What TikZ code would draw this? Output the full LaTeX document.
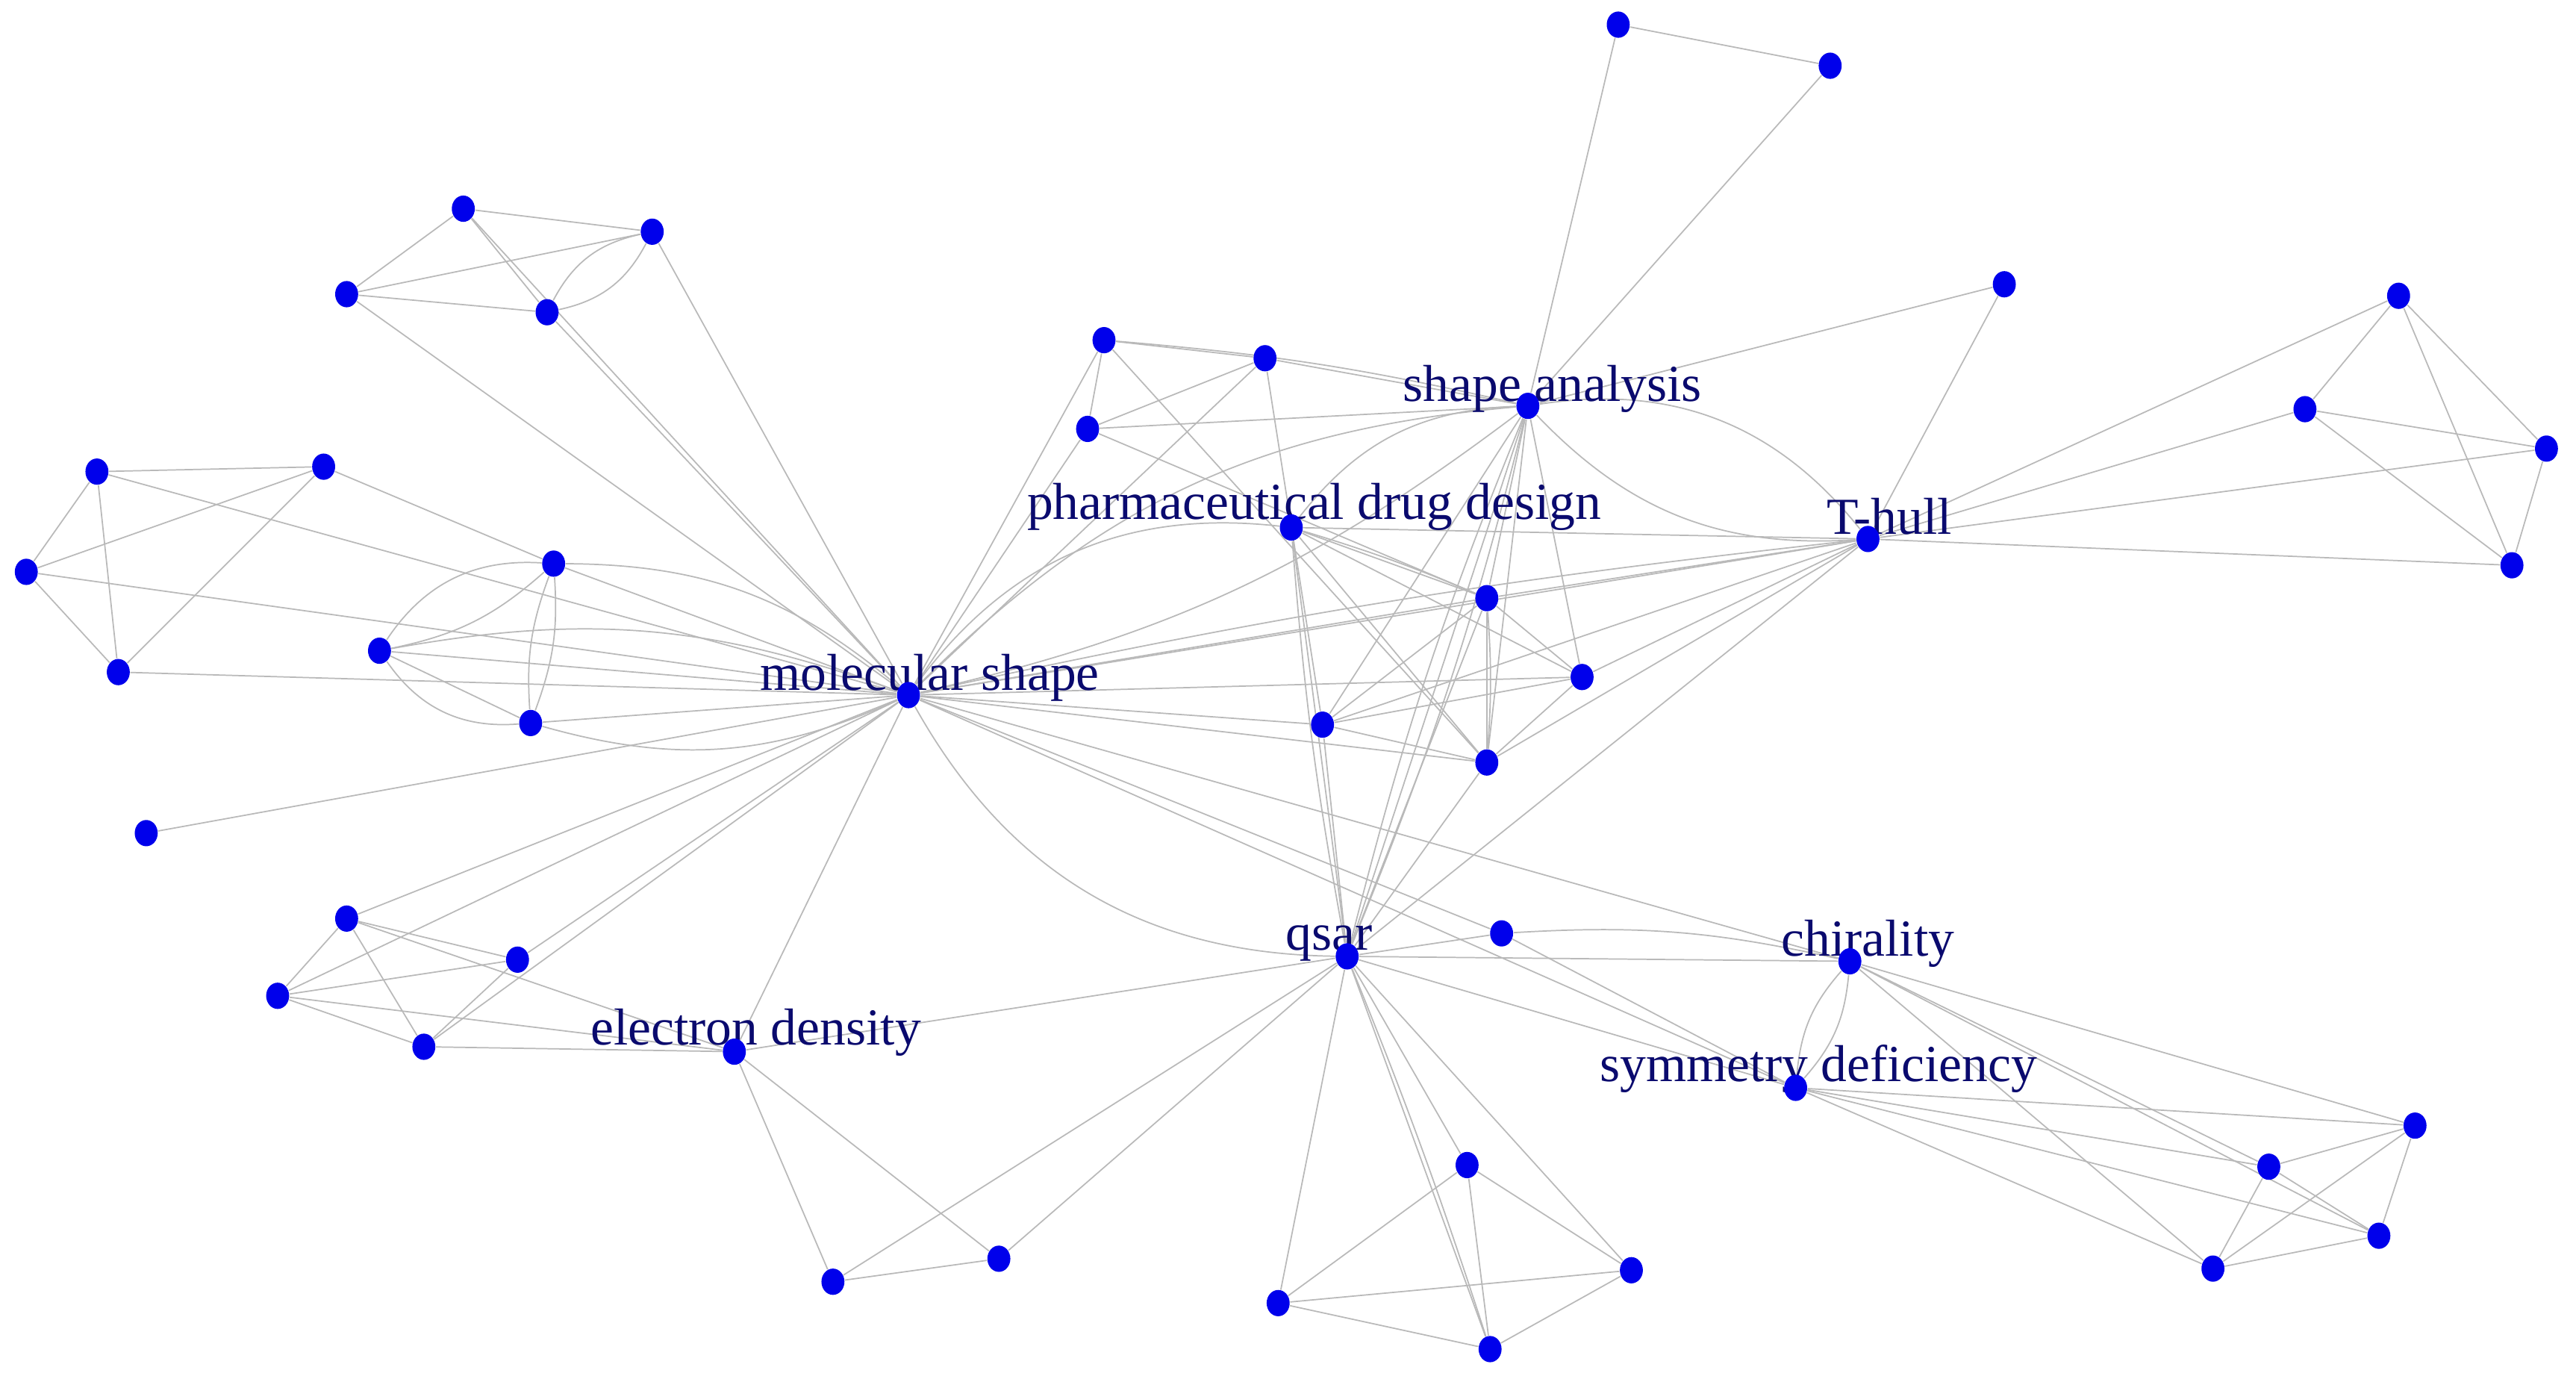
\documentclass[tikz,border=0pt]{standalone}
\usepackage{fontspec}
\setmainfont{Liberation Serif}
\usetikzlibrary{shapes.geometric}
\pgfdeclarelayer{background}
\pgfsetlayers{background,main}
\definecolor{nodeblue}{RGB}{0,0,235}
\definecolor{labelblue}{RGB}{10,10,110}
\definecolor{edgegray}{RGB}{185,185,185}
\tikzset{
  dot/.style={ellipse, fill=nodeblue, draw=none, inner sep=0pt, minimum width=0.28cm, minimum height=0.32cm},
  lab/.style={text=labelblue, font=\fontsize{18}{20}\selectfont, inner sep=0pt, anchor=base},
  edg/.style={draw=edgegray, line width=0.45pt}
}
\begin{document}
\begin{tikzpicture}[x=0.02cm,y=0.02cm]
\useasboundingbox (0,0) rectangle (1568,-839);
% labels
\node[lab] (lms) at (566,-420) {molecular shape};
\node[lab] (lsa) at (945,-244) {shape analysis};
\node[lab] (lpd) at (800,-316) {pharmaceutical drug design};
\node[lab] (lth) at (1150,-325) {T-hull};
\node[lab] (lqs) at (809,-578) {qsar};
\node[lab] (led) at (460,-636) {electron density};
\node[lab] (lch) at (1137,-582) {chirality};
\node[lab] (lsd) at (1107,-658) {symmetry deficiency};
% nodes
\node[dot] (a1) at (282,-127) {};
\node[dot] (a2) at (397,-141) {};
\node[dot] (a3) at (211,-179) {};
\node[dot] (a4) at (333,-190) {};
\node[dot] (b1) at (59,-287) {};
\node[dot] (b2) at (197,-284) {};
\node[dot] (b3) at (16,-348) {};
\node[dot] (b4) at (72,-409) {};
\node[dot] (c1) at (337,-343) {};
\node[dot] (c2) at (231,-396) {};
\node[dot] (c3) at (323,-440) {};
\node[dot] (d) at (89,-507) {};
\node[dot] (ms) at (553,-423) {};
\node[dot] (e1) at (211,-559) {};
\node[dot] (e2) at (315,-584) {};
\node[dot] (e3) at (169,-606) {};
\node[dot] (e4) at (258,-637) {};
\node[dot] (ed) at (447,-640) {};
\node[dot] (f1) at (507,-780) {};
\node[dot] (f2) at (608,-766) {};
\node[dot] (qs) at (820,-582) {};
\node[dot] (g1) at (893,-709) {};
\node[dot] (g2) at (993,-773) {};
\node[dot] (g3) at (778,-793) {};
\node[dot] (g4) at (907,-821) {};
\node[dot] (h1) at (914,-568) {};
\node[dot] (ch) at (1126,-585) {};
\node[dot] (sd) at (1093,-662) {};
\node[dot] (i1) at (1470,-685) {};
\node[dot] (i2) at (1381,-710) {};
\node[dot] (i3) at (1448,-752) {};
\node[dot] (i4) at (1347,-772) {};
\node[dot] (j1) at (672,-207) {};
\node[dot] (j2) at (770,-218) {};
\node[dot] (j3) at (662,-261) {};
\node[dot] (pd) at (786,-321) {};
\node[dot] (sa) at (930,-247) {};
\node[dot] (k1) at (985,-15) {};
\node[dot] (k2) at (1114,-40) {};
\node[dot] (ll) at (1220,-173) {};
\node[dot] (th) at (1137,-328) {};
\node[dot] (m1) at (905,-364) {};
\node[dot] (m2) at (963,-412) {};
\node[dot] (m3) at (805,-441) {};
\node[dot] (m4) at (905,-464) {};
\node[dot] (n1) at (1460,-180) {};
\node[dot] (n2) at (1403,-249) {};
\node[dot] (n3) at (1550,-273) {};
\node[dot] (n4) at (1529,-344) {};
\begin{pgfonlayer}{background}
% top-left cluster
\draw[edg] (a1) -- (a2);
\draw[edg] (a1) -- (a3);
\draw[edg] (a1) -- (a4);
\draw[edg] (a3) -- (a2);
\draw[edg] (a3) -- (a4);
\draw[edg] (a2) to[bend left=25] (a4);
\draw[edg] (a2) to[bend right=25] (a4);
\draw[edg] (a3) -- (ms);
\draw[edg] (a1) -- (ms);
\draw[edg] (a4) -- (ms);
\draw[edg] (a2) -- (ms);
% left cluster
\draw[edg] (b1) -- (b2);
\draw[edg] (b1) -- (b3);
\draw[edg] (b1) -- (b4);
\draw[edg] (b3) -- (b2);
\draw[edg] (b2) -- (b4);
\draw[edg] (b3) -- (b4);
\draw[edg] (b1) -- (ms);
\draw[edg] (b3) -- (ms);
\draw[edg] (b4) -- (ms);
\draw[edg] (b2) -- (c1);
% inner-left
\draw[edg] (c1) to[bend left=12] (c3);
\draw[edg] (c1) to[bend right=12] (c3);
\draw[edg] (c1) to[bend right=30] (c2);
\draw[edg] (c1) to[bend left=15] (c2);
\draw[edg] (c2) to[bend right=30] (c3);
\draw[edg] (c2) -- (c3);
\draw[edg] (c1) -- (ms);
\draw[edg] (c1) to[bend left=20] (ms);
\draw[edg] (c2) -- (ms);
\draw[edg] (c2) to[bend left=15] (ms);
\draw[edg] (c3) -- (ms);
\draw[edg] (c3) to[bend right=20] (ms);
\draw[edg] (d) -- (ms);
% bottom-left
\draw[edg] (e1) -- (e2);
\draw[edg] (e1) -- (e3);
\draw[edg] (e1) -- (e4);
\draw[edg] (e1) -- (ed);
\draw[edg] (e2) -- (e3);
\draw[edg] (e2) -- (e4);
\draw[edg] (e3) -- (e4);
\draw[edg] (e3) -- (ed);
\draw[edg] (e4) -- (ed);
\draw[edg] (e1) -- (ms);
\draw[edg] (e2) -- (ms);
\draw[edg] (e3) -- (ms);
\draw[edg] (e4) -- (ms);
\draw[edg] (ed) -- (ms);
\draw[edg] (ed) -- (qs);
\draw[edg] (ed) -- (f1);
\draw[edg] (ed) -- (f2);
\draw[edg] (f1) -- (f2);
\draw[edg] (f1) -- (qs);
\draw[edg] (f2) -- (qs);
% qsar
\draw[edg] (ms) to[bend right=30] (qs);
\draw[edg] (qs) -- (g1);
\draw[edg] (qs) -- (g2);
\draw[edg] (qs) -- (g3);
\draw[edg] (qs) -- (g4);
\draw[edg] (qs) to[bend left=2] (g4);
\draw[edg] (g1) -- (g2);
\draw[edg] (g1) -- (g3);
\draw[edg] (g1) -- (g4);
\draw[edg] (g2) -- (g3);
\draw[edg] (g2) -- (g4);
\draw[edg] (g3) -- (g4);
\draw[edg] (qs) -- (h1);
\draw[edg] (qs) -- (ch);
\draw[edg] (qs) -- (sd);
\draw[edg] (qs) -- (pd);
\draw[edg] (qs) to[bend left=3] (pd);
\draw[edg] (qs) -- (m3);
\draw[edg] (qs) -- (sa);
\draw[edg] (qs) to[bend left=4] (sa);
\draw[edg] (qs) to[bend right=4] (sa);
\draw[edg] (qs) -- (th);
\draw[edg] (qs) -- (m1);
\draw[edg] (qs) -- (m4);
% chirality / symmetry deficiency
\draw[edg] (h1) to[bend left=8] (ch);
\draw[edg] (h1) -- (sd);
\draw[edg] (ms) -- (h1);
\draw[edg] (ch) to[bend left=18] (sd);
\draw[edg] (ch) to[bend right=18] (sd);
\draw[edg] (ch) -- (i1);
\draw[edg] (ch) -- (i2);
\draw[edg] (ch) -- (i3);
\draw[edg] (ch) -- (i4);
\draw[edg] (ms) -- (ch);
\draw[edg] (ms) -- (sd);
\draw[edg] (sd) -- (i1);
\draw[edg] (sd) -- (i2);
\draw[edg] (sd) -- (i3);
\draw[edg] (sd) -- (i4);
\draw[edg] (i1) -- (i2);
\draw[edg] (i1) -- (i3);
\draw[edg] (i1) -- (i4);
\draw[edg] (i2) -- (i3);
\draw[edg] (i2) -- (i4);
\draw[edg] (i4) -- (i3);
% upper center
\draw[edg] (j1) -- (j2);
\draw[edg] (j1) to[bend left=4] (sa);
\draw[edg] (j1) -- (j3);
\draw[edg] (j2) -- (j3);
\draw[edg] (j1) -- (ms);
\draw[edg] (j2) -- (ms);
\draw[edg] (j3) -- (ms);
\draw[edg] (j1) -- (m4);
\draw[edg] (j3) -- (m1);
\draw[edg] (j2) -- (m3);
\draw[edg] (j2) -- (sa);
\draw[edg] (j3) -- (sa);
% pharmaceutical drug design
\draw[edg] (ms) to[bend left=30] (pd);
\draw[edg] (pd) -- (th);
\draw[edg] (pd) -- (m1);
\draw[edg] (pd) to[bend left=3] (m1);
\draw[edg] (pd) -- (m2);
\draw[edg] (pd) -- (m4);
\draw[edg] (pd) to[bend left=25] (sa);
% shape analysis
\draw[edg] (sa) to[bend right=20] (ms);
\draw[edg] (sa) to[bend left=12] (ms);
\draw[edg] (sa) to[bend left=30] (th);
\draw[edg] (sa) to[bend right=25] (th);
\draw[edg] (sa) -- (k1);
\draw[edg] (sa) -- (k2);
\draw[edg] (k1) -- (k2);
\draw[edg] (sa) -- (ll);
\draw[edg] (ll) -- (th);
\draw[edg] (sa) -- (m1);
\draw[edg] (sa) -- (m2);
\draw[edg] (sa) -- (m3);
\draw[edg] (sa) -- (m4);
% T-hull
\draw[edg] (th) -- (n1);
\draw[edg] (th) -- (n2);
\draw[edg] (th) -- (n3);
\draw[edg] (th) -- (n4);
\draw[edg] (n1) -- (n2);
\draw[edg] (n1) -- (n3);
\draw[edg] (n1) -- (n4);
\draw[edg] (n2) -- (n3);
\draw[edg] (n2) -- (n4);
\draw[edg] (n3) -- (n4);
\draw[edg] (th) -- (ms);
\draw[edg] (th) to[bend right=3] (ms);
\draw[edg] (th) -- (m1);
\draw[edg] (th) -- (m2);
\draw[edg] (th) -- (m3);
\draw[edg] (th) -- (m4);
% M cluster
\draw[edg] (m1) -- (m4);
\draw[edg] (m1) to[bend left=4] (m4);
\draw[edg] (m1) -- (m2);
\draw[edg] (m1) -- (m3);
\draw[edg] (m3) -- (m2);
\draw[edg] (m3) -- (m4);
\draw[edg] (m2) -- (m4);
\draw[edg] (m1) -- (ms);
\draw[edg] (m2) -- (ms);
\draw[edg] (m3) -- (ms);
\draw[edg] (m4) -- (ms);
\end{pgfonlayer}
\end{tikzpicture}
\end{document}
